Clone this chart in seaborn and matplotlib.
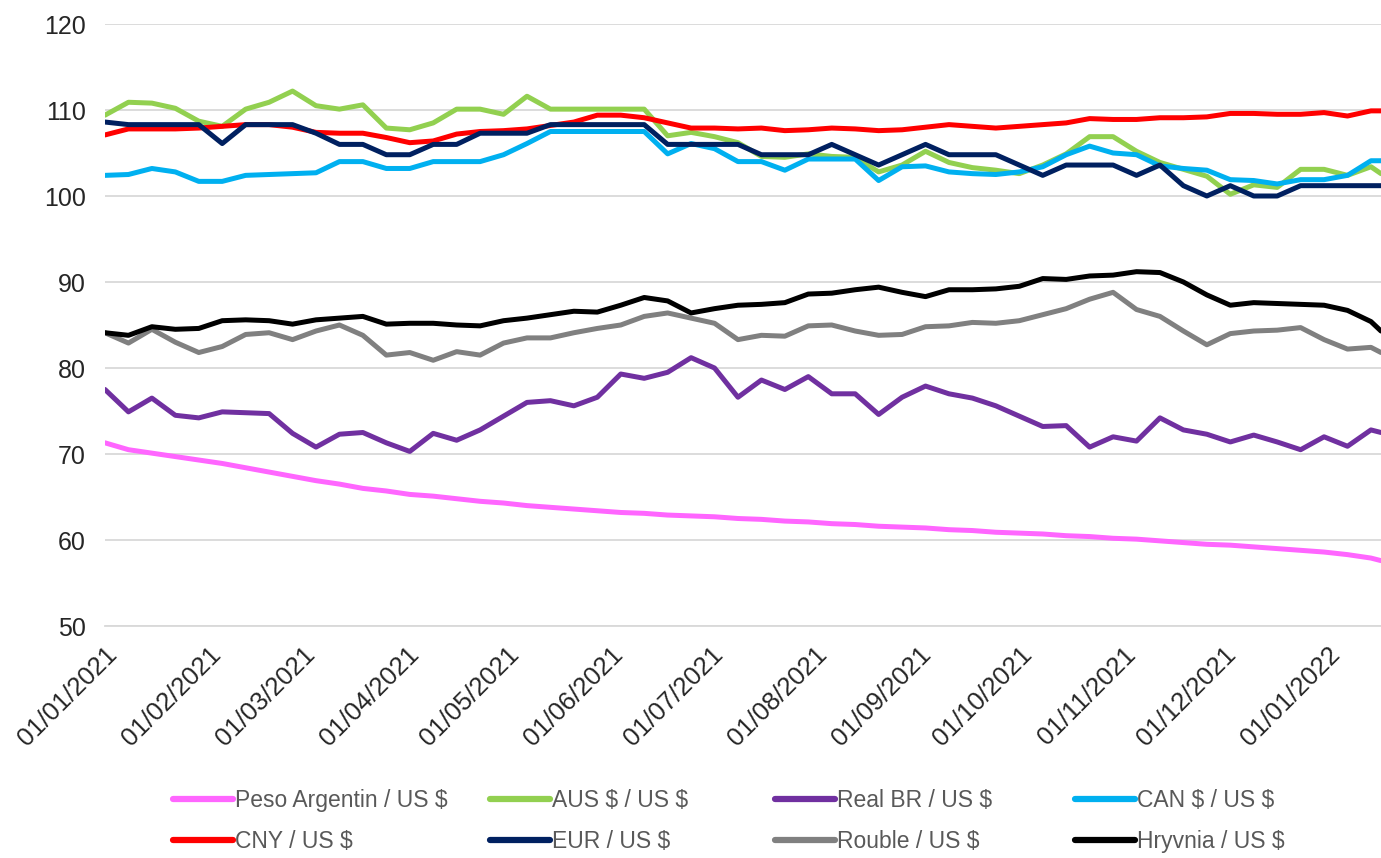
import matplotlib.pyplot as plt
import matplotlib.dates as mdates
from matplotlib.lines import Line2D
import seaborn as sns
import pandas as pd

# weekly readings (plus the last visible day)
dates = list(pd.date_range('2021-01-01', '2022-01-14', freq='7D')) + [pd.Timestamp('2022-01-17')]

peso = [71.3, 70.5, 70.1, 69.7, 69.3, 68.9, 68.4, 67.9, 67.4, 66.9,
        66.5, 66.0, 65.7, 65.3, 65.1, 64.8, 64.5, 64.3, 64.0, 63.8,
        63.6, 63.4, 63.2, 63.1, 62.9, 62.8, 62.7, 62.5, 62.4, 62.2,
        62.1, 61.9, 61.8, 61.6, 61.5, 61.4, 61.2, 61.1, 60.9, 60.8,
        60.7, 60.5, 60.4, 60.2, 60.1, 59.9, 59.7, 59.5, 59.4, 59.2,
        59.0, 58.8, 58.6, 58.3, 57.9, 57.6]
aus = [109.4, 110.9, 110.8, 110.2, 108.7, 108.1, 110.1, 110.9, 112.2, 110.5,
       110.1, 110.6, 107.9, 107.7, 108.5, 110.1, 110.1, 109.5, 111.6, 110.1,
       110.1, 110.1, 110.1, 110.1, 107.0, 107.4, 106.9, 106.2, 104.6, 104.5,
       104.9, 104.6, 104.5, 102.8, 103.6, 105.2, 103.9, 103.3, 103.0, 102.6,
       103.6, 104.9, 106.9, 106.9, 105.2, 103.9, 103.1, 102.3, 100.2, 101.3,
       101.0, 103.1, 103.1, 102.4, 103.4, 102.6]
real = [77.5, 74.9, 76.5, 74.5, 74.2, 74.9, 74.8, 74.7, 72.4, 70.8,
        72.3, 72.5, 71.3, 70.3, 72.4, 71.6, 72.8, 74.4, 76.0, 76.2,
        75.6, 76.6, 79.3, 78.8, 79.5, 81.2, 80.0, 76.6, 78.6, 77.5,
        79.0, 77.0, 77.0, 74.6, 76.6, 77.9, 77.0, 76.5, 75.6, 74.4,
        73.2, 73.3, 70.8, 72.0, 71.5, 74.2, 72.8, 72.3, 71.4, 72.2,
        71.4, 70.5, 72.0, 70.9, 72.8, 72.5]
can = [102.4, 102.5, 103.2, 102.8, 101.7, 101.7, 102.4, 102.5, 102.6, 102.7,
       104.0, 104.0, 103.2, 103.2, 104.0, 104.0, 104.0, 104.8, 106.1, 107.5,
       107.5, 107.5, 107.5, 107.5, 104.9, 106.1, 105.5, 104.0, 104.0, 103.0,
       104.3, 104.3, 104.3, 101.8, 103.4, 103.5, 102.8, 102.6, 102.5, 102.8,
       103.4, 104.8, 105.8, 105.0, 104.8, 103.5, 103.2, 103.0, 101.9, 101.8,
       101.4, 101.9, 101.9, 102.4, 104.1, 104.1]
cny = [107.1, 107.8, 107.8, 107.8, 107.9, 108.1, 108.3, 108.3, 108.0, 107.4,
       107.3, 107.3, 106.8, 106.2, 106.4, 107.2, 107.5, 107.6, 107.8, 108.2,
       108.6, 109.4, 109.4, 109.1, 108.5, 107.9, 107.9, 107.8, 107.9, 107.6,
       107.7, 107.9, 107.8, 107.6, 107.7, 108.0, 108.3, 108.1, 107.9, 108.1,
       108.3, 108.5, 109.0, 108.9, 108.9, 109.1, 109.1, 109.2, 109.6, 109.6,
       109.5, 109.5, 109.7, 109.3, 109.9, 109.9]
eur = [108.6, 108.3, 108.3, 108.3, 108.3, 106.1, 108.3, 108.3, 108.3, 107.3,
       106.0, 106.0, 104.8, 104.8, 106.0, 106.0, 107.3, 107.3, 107.3, 108.3,
       108.3, 108.3, 108.3, 108.3, 106.0, 106.0, 106.0, 106.0, 104.8, 104.8,
       104.8, 106.0, 104.8, 103.6, 104.8, 106.0, 104.8, 104.8, 104.8, 103.6,
       102.4, 103.6, 103.6, 103.6, 102.4, 103.6, 101.2, 100.0, 101.2, 100.0,
       100.0, 101.2, 101.2, 101.2, 101.2, 101.2]
rouble = [84.1, 82.9, 84.5, 83.0, 81.8, 82.5, 83.9, 84.1, 83.3, 84.3,
          85.0, 83.8, 81.5, 81.8, 80.9, 81.9, 81.5, 82.9, 83.5, 83.5,
          84.1, 84.6, 85.0, 86.0, 86.4, 85.8, 85.2, 83.3, 83.8, 83.7,
          84.9, 85.0, 84.3, 83.8, 83.9, 84.8, 84.9, 85.3, 85.2, 85.5,
          86.2, 86.9, 88.0, 88.8, 86.8, 86.0, 84.3, 82.7, 84.0, 84.3,
          84.4, 84.7, 83.3, 82.2, 82.4, 81.8]
hryvnia = [84.1, 83.8, 84.8, 84.5, 84.6, 85.5, 85.6, 85.5, 85.1, 85.6,
           85.8, 86.0, 85.1, 85.2, 85.2, 85.0, 84.9, 85.5, 85.8, 86.2,
           86.6, 86.5, 87.3, 88.2, 87.8, 86.4, 86.9, 87.3, 87.4, 87.6,
           88.6, 88.7, 89.1, 89.4, 88.8, 88.3, 89.1, 89.1, 89.2, 89.5,
           90.4, 90.3, 90.7, 90.8, 91.2, 91.1, 90.0, 88.5, 87.3, 87.6,
           87.5, 87.4, 87.3, 86.7, 85.4, 84.3]

names = ['Peso Argentin / US \\$', 'AUS \\$ / US \\$', 'Real BR / US \\$', 'CAN \\$ / US \\$',
         'CNY / US \\$', 'EUR / US \\$', 'Rouble / US \\$', 'Hryvnia / US \\$']
colors = ['#FF66FF', '#92D050', '#7030A0', '#00B0F0',
          '#FF0000', '#002060', '#808080', '#000000']
values = [peso, aus, real, can, cny, eur, rouble, hryvnia]

df = pd.concat([pd.DataFrame({'date': dates, 'value': v, 'series': n})
                for n, v in zip(names, values)], ignore_index=True)

sns.set_style('white')
plt.rcParams['font.family'] = ['Liberation Sans', 'DejaVu Sans']

W, H = 1381, 858
fig = plt.figure(figsize=(W / 100, H / 100), dpi=100)
ax = fig.add_axes([105 / W, 1 - 626 / H, 1 - 105 / W, (626 - 24) / H])

sns.lineplot(data=df, x='date', y='value', hue='series', hue_order=names,
             palette=dict(zip(names, colors)), linewidth=3.6, legend=False, ax=ax)

ax.set_ylim(50, 120)
ax.set_yticks(range(50, 121, 10))
ax.set_xlim(pd.Timestamp('2021-01-01'), pd.Timestamp('2022-01-17'))
ax.set_xticks(pd.date_range('2021-01-01', '2022-01-01', freq='MS'))
ax.xaxis.set_major_formatter(mdates.DateFormatter('%d/%m/%Y'))
ax.grid(axis='y', color='#d9d9d9', lw=1.3)
ax.set_axisbelow(True)
for s in ['top', 'right', 'left']:
    ax.spines[s].set_visible(False)
ax.spines['bottom'].set_color('#d9d9d9')
ax.spines['bottom'].set_linewidth(1.3)
ax.tick_params(axis='x', length=7, color='#d9d9d9', width=1.3, labelsize=18.5, pad=5)
ax.tick_params(axis='y', length=0, labelsize=18, pad=14)
for lab in ax.get_xticklabels():
    lab.set_rotation(45)
    lab.set_ha('right')
    lab.set_rotation_mode('anchor')
ax.set_xlabel('')
ax.set_ylabel('')

# legend: 4 columns x 2 rows, evenly spaced like the original
handles = [Line2D([], [], color=c, lw=4.5) for c in colors]
for x0, (i, j) in zip([173, 490, 775, 1075], [(0, 4), (1, 5), (2, 6), (3, 7)]):
    fig.legend([handles[i], handles[j]], [names[i], names[j]],
               loc='upper left', bbox_to_anchor=(x0 / W, 1 - 789 / H),
               frameon=False, handlelength=2.6, handletextpad=0.1,
               labelspacing=0.78, borderpad=0, borderaxespad=0,
               labelcolor='#595959', prop={'size': 16.5})

fig.savefig('out.png', dpi=100)
